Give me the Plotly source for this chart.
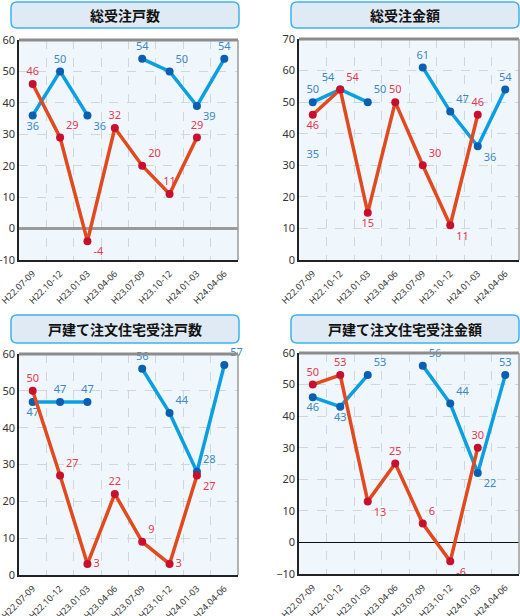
import plotly.graph_objects as go

categories = ["H22.07-09", "H22.10-12", "H23.01-03", "H23.04-06",
              "H23.07-09", "H23.10-12", "H24.01-03", "H24.04-06"]

titles = ["総受注戸数", "総受注金額", "戸建て注文住宅受注戸数", "戸建て注文住宅受注金額"]

red1 = [46, 29, -4, 32, 20, 11, 29, None]
blue1 = [36, 50, 36, None, 54, 50, 39, 54]
red2 = [46, 54, 15, 50, 30, 11, 46, None]
blue2 = [50, 54, 50, None, 61, 47, 36, 54]
extra2 = [35, None, None, None, None, None, None, None]
red3 = [50, 27, 3, 22, 9, 3, 27, None]
blue3 = [47, 47, 47, None, 56, 44, 28, 57]
red4 = [50, 53, 13, 25, 6, -6, 30, None]
blue4 = [46, 43, 53, None, 56, 44, 22, 53]

yranges = [(-10, 60), (0, 70), (0, 60), (-10, 60)]

red_pos = [
    ["top center", "top right", "bottom right", "top center", "top right", "top center", "top center", "top center"],
    ["bottom center", "top right", "bottom center", "top center", "top right", "bottom right", "top center", "top center"],
    ["top center", "top right", "middle right", "top center", "top right", "middle right", "bottom right", "top center"],
    ["top center", "top center", "bottom right", "top center", "top right", "bottom right", "top center", "top center"],
]
blue_pos = [
    ["bottom center", "top center", "bottom right", "top center", "top center", "top right", "bottom right", "top center"],
    ["top center", "top left", "top right", "top center", "top center", "top right", "bottom right", "top center"],
    ["bottom center", "top center", "top center", "top center", "top center", "top right", "top right", "top right"],
    ["bottom center", "bottom center", "top right", "top center", "top right", "top right", "bottom right", "top center"],
]

W, H = 520, 616
# pixel boxes of plot areas: (x0, x1, ytop, ybottom)
boxes = [(19, 238, 40, 260), (299, 519, 39, 260), (19, 238, 354, 575), (299, 519, 353, 574)]
title_boxes = [(11, 239, 2, 28), (291, 519, 2, 28), (11, 239, 315, 343), (291, 519, 315, 343)]

RED_LINE = "#e2491f"
RED_MK = "#c8102e"
RED_TXT = "#e8384f"
BLUE_LINE = "#0a9fe0"
BLUE_MK = "#0b5fb3"
BLUE_TXT = "#3b87c8"

fig = go.Figure()
reds = [red1, red2, red3, red4]
blues = [blue1, blue2, blue3, blue4]

FONT = "Noto Sans, DejaVu Sans, sans-serif"

for i in range(4):
    xa = "x" if i == 0 else f"x{i+1}"
    ya = "y" if i == 0 else f"y{i+1}"
    fig.add_trace(go.Scatter(
        x=categories, y=blues[i], xaxis=xa, yaxis=ya, mode="lines+markers+text",
        line=dict(color=BLUE_LINE, width=3.5), connectgaps=False,
        marker=dict(color=BLUE_MK, size=8),
        text=[("" if v is None else str(v)) for v in blues[i]],
        textposition=blue_pos[i], textfont=dict(color=BLUE_TXT, size=11, family=FONT),
        showlegend=False, cliponaxis=False))
    fig.add_trace(go.Scatter(
        x=categories, y=reds[i], xaxis=xa, yaxis=ya, mode="lines+markers+text",
        line=dict(color=RED_LINE, width=3.5), connectgaps=False,
        marker=dict(color=RED_MK, size=8),
        text=[("" if v is None else str(v)) for v in reds[i]],
        textposition=red_pos[i], textfont=dict(color=RED_TXT, size=11, family=FONT),
        showlegend=False, cliponaxis=False))
    if i == 1:
        fig.add_trace(go.Scatter(
            x=categories, y=extra2, xaxis=xa, yaxis=ya, mode="text",
            text=[("" if v is None else str(v)) for v in extra2],
            textposition="bottom center", textfont=dict(color=BLUE_TXT, size=11, family=FONT),
            showlegend=False, cliponaxis=False))

layout = dict(
    width=W, height=H, margin=dict(l=0, r=0, t=0, b=0, autoexpand=False),
    paper_bgcolor="white", plot_bgcolor="#eff7fd",
    font=dict(family=FONT, color="#333333"),
)
shapes = []
annotations = []
for i in range(4):
    x0, x1, yt, yb = boxes[i]
    sfx = "" if i == 0 else str(i + 1)
    layout["xaxis" + sfx] = dict(
        domain=[x0 / W, x1 / W], anchor="y" + sfx, type="category", automargin=False,
        categoryorder="array", categoryarray=categories,
        tickson="boundaries", showgrid=True, gridcolor="#cfd6dc", griddash="dash", gridwidth=1,
        tickangle=-45, tickfont=dict(size=9, color="#333333"), ticks="", showline=True,
        ticklabelstandoff=3,
        linecolor="#222222", linewidth=1.5, range=[-0.5, 7.5], fixedrange=True, zeroline=False)
    lo, hi = yranges[i]
    layout["yaxis" + sfx] = dict(
        domain=[1 - yb / H, 1 - yt / H], anchor="x" + sfx, range=[lo, hi], automargin=False,
        dtick=10, tick0=0, showgrid=True, gridcolor="#cfd6dc", griddash="dash", gridwidth=1,
        tickfont=dict(size=11, color="#333333"), ticks="", showline=True,
        linecolor="#222222", linewidth=1.5, fixedrange=True,
        zeroline=(lo < 0), zerolinecolor=("#9a9a9a" if i == 0 else "#111111"),
        zerolinewidth=(3 if i == 0 else 1.3))
    xr = "x" + sfx + " domain"
    yr = "y" + sfx + " domain"
    # top gray border and right border
    shapes.append(dict(type="line", xref=xr, yref=yr, x0=0, x1=1, y0=1, y1=1,
                       line=dict(color="#8c8c8c", width=3)))
    shapes.append(dict(type="line", xref=xr, yref=yr, x0=1, x1=1, y0=0, y1=1,
                       line=dict(color="#9a9a9a", width=1.5)))
    # rounded title box
    bx0, bx1, by0, by1 = title_boxes[i]
    r = 6
    X = lambda px: px / W
    Y = lambda py: 1 - py / H
    path = (f"M {X(bx0 + r)},{Y(by0)} L {X(bx1 - r)},{Y(by0)} Q {X(bx1)},{Y(by0)} {X(bx1)},{Y(by0 + r)} "
            f"L {X(bx1)},{Y(by1 - r)} Q {X(bx1)},{Y(by1)} {X(bx1 - r)},{Y(by1)} "
            f"L {X(bx0 + r)},{Y(by1)} Q {X(bx0)},{Y(by1)} {X(bx0)},{Y(by1 - r)} "
            f"L {X(bx0)},{Y(by0 + r)} Q {X(bx0)},{Y(by0)} {X(bx0 + r)},{Y(by0)} Z")
    shapes.append(dict(type="path", xref="paper", yref="paper", path=path,
                       fillcolor="#dfeaf4", line=dict(color="#3cb2ea", width=1.5)))
    annotations.append(dict(xref="paper", yref="paper", x=(bx0 + bx1) / 2 / W,
                            y=1 - (by0 + by1) / 2 / H, text=f"<b>{titles[i]}</b>",
                            showarrow=False, xanchor="center", yanchor="middle",
                            font=dict(family="Noto Sans CJK JP", size=14, color="#111111")))

layout["shapes"] = shapes
layout["annotations"] = annotations
fig.update_layout(**layout)
fig.write_html("out.html", config={"displayModeBar": False},
               post_script="document.body.style.margin='0';document.body.style.overflow='hidden';")
